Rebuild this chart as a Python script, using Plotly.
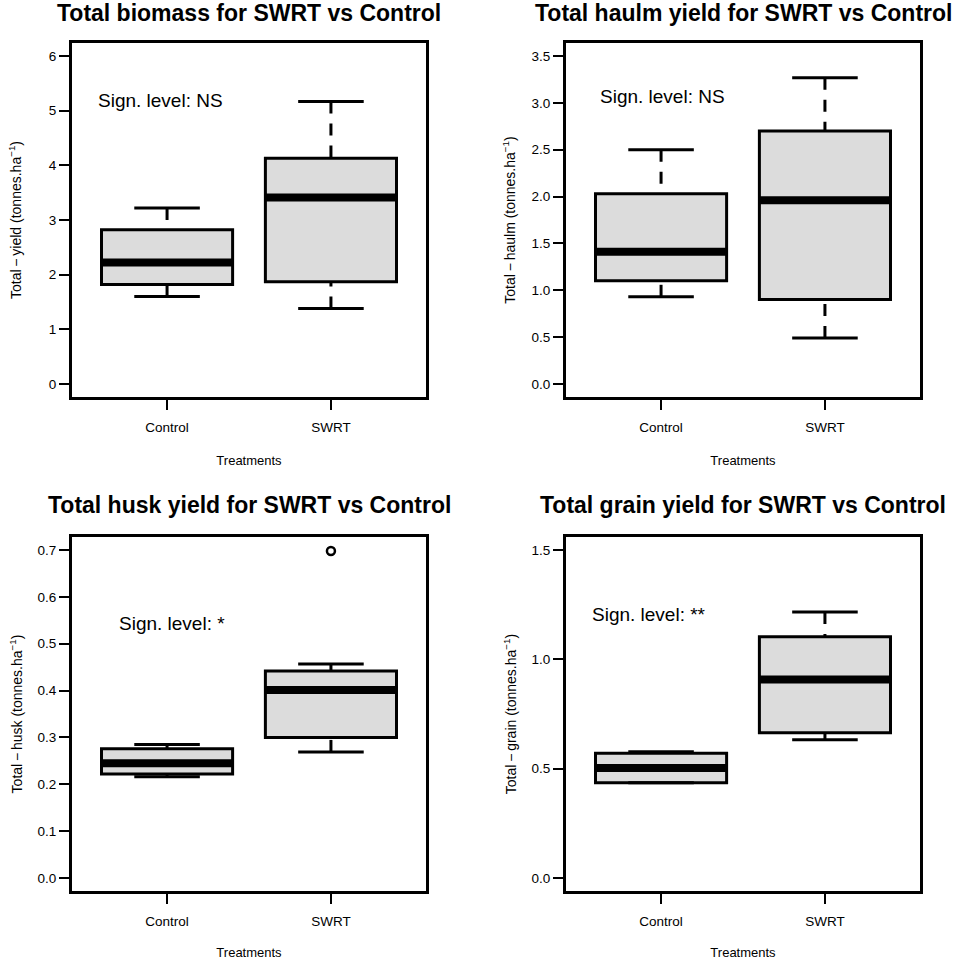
import plotly.graph_objects as go

# treatments and their x positions
groups = ['Control', 'SWRT']
positions = [1, 2]

# box statistics (lower whisker, Q1, median, Q3, upper whisker)
biomass_low = [1.60, 1.38]
biomass_q1 = [1.82, 1.87]
biomass_med = [2.22, 3.41]
biomass_q3 = [2.82, 4.13]
biomass_high = [3.22, 5.17]

haulm_low = [0.93, 0.49]
haulm_q1 = [1.10, 0.90]
haulm_med = [1.41, 1.96]
haulm_q3 = [2.03, 2.70]
haulm_high = [2.50, 3.27]

husk_low = [0.216, 0.269]
husk_q1 = [0.222, 0.300]
husk_med = [0.245, 0.401]
husk_q3 = [0.276, 0.442]
husk_high = [0.285, 0.457]
husk_outlier_pos = [2]
husk_outlier_val = [0.698]

grain_low = [0.435, 0.632]
grain_q1 = [0.435, 0.664]
grain_med = [0.503, 0.908]
grain_q3 = [0.570, 1.103]
grain_high = [0.577, 1.217]

titles = ['Total biomass for SWRT vs Control', 'Total haulm yield for SWRT vs Control',
          'Total husk yield for SWRT vs Control', 'Total grain yield for SWRT vs Control']
ytitles = ['Total\u2009\u2212\u2009yield (tonnes.ha<sup>\u22121</sup>)',
           'Total\u2009\u2212\u2009haulm (tonnes.ha<sup>\u22121</sup>)',
           'Total\u2009\u2212\u2009husk (tonnes.ha<sup>\u22121</sup>)',
           'Total\u2009\u2212\u2009grain (tonnes.ha<sup>\u22121</sup>)']
sign_labels = ['Sign. level: NS', 'Sign. level: NS', 'Sign. level: *', 'Sign. level: **']

FONT = 'Liberation Sans, Arial, sans-serif'
W, H = 957, 960
BOX_HALF = 0.4
CAP_HALF = 0.2

fig = go.Figure()

# panel frames in pixels: (left, right, top, bottom)
frames = [(72, 426, 43, 397), (566, 920, 43, 397),
          (72, 426, 537, 891), (566, 920, 537, 891)]
yranges = [[-0.24, 6.24], [-0.14, 3.64], [-0.028, 0.728], [-0.06, 1.56]]
yticks = [[0, 1, 2, 3, 4, 5, 6], [0, 0.5, 1, 1.5, 2, 2.5, 3, 3.5],
          [0, 0.1, 0.2, 0.3, 0.4, 0.5, 0.6, 0.7], [0, 0.5, 1, 1.5]]
yfmt = ['d', '.1f', '.1f', '.1f']
ystandoff = [24, 13, 12, 12]
sign_pos = [(0.565, 5.18), (0.615, 3.07), (0.695, 0.544), (0.565, 1.204)]
title_y = [13, 13, 505, 505]

panels = [
    (biomass_low, biomass_q1, biomass_med, biomass_q3, biomass_high),
    (haulm_low, haulm_q1, haulm_med, haulm_q3, haulm_high),
    (husk_low, husk_q1, husk_med, husk_q3, husk_high),
    (grain_low, grain_q1, grain_med, grain_q3, grain_high),
]

for i, (low, q1, med, q3, high) in enumerate(panels):
    n = '' if i == 0 else str(i + 1)
    xa, ya = 'x' + n, 'y' + n
    # box body
    fig.add_trace(go.Box(x=positions, q1=q1, median=med, q3=q3,
                         lowerfence=q1, upperfence=q3, width=2 * BOX_HALF,
                         whiskerwidth=0, fillcolor='#dcdcdc',
                         line=dict(color='black', width=3),
                         boxpoints=False, xaxis=xa, yaxis=ya))
    for p, lo, a, m, b, hi in zip(positions, low, q1, med, q3, high):
        # dashed whiskers from fence to box
        for fence, edge in ((hi, b), (lo, a)):
            fig.add_trace(go.Scatter(x=[p, p], y=[fence, edge], mode='lines',
                                     line=dict(color='black', width=3, dash='12px,10px'),
                                     xaxis=xa, yaxis=ya))
            fig.add_trace(go.Scatter(x=[p - CAP_HALF, p + CAP_HALF], y=[fence, fence],
                                     mode='lines', line=dict(color='black', width=3),
                                     xaxis=xa, yaxis=ya))
        # thick median
        fig.add_trace(go.Scatter(x=[p - BOX_HALF, p + BOX_HALF], y=[m, m], mode='lines',
                                 line=dict(color='black', width=8), xaxis=xa, yaxis=ya))
    if i == 2:
        fig.add_trace(go.Scatter(x=husk_outlier_pos, y=husk_outlier_val, mode='markers',
                                 marker=dict(symbol='circle-open', size=8, color='black',
                                             line=dict(width=2.5, color='black')),
                                 xaxis=xa, yaxis=ya))

    l, r, t, b = frames[i]
    axis_common = dict(showline=True, linecolor='black', linewidth=3, mirror=True,
                       ticks='outside', ticklen=10, tickwidth=2, tickcolor='black',
                       showgrid=False, zeroline=False,
                       tickfont=dict(family=FONT, size=13.5, color='black'))
    fig.layout['xaxis' + n] = dict(
        axis_common, domain=[l / W, r / W], anchor=ya, range=[0.42, 2.58],
        tickvals=positions, ticktext=groups, ticklabelstandoff=6,
        title=dict(text='Treatments', standoff=22, font=dict(family=FONT, size=13, color='black')))
    fig.layout['yaxis' + n] = dict(
        axis_common, domain=[1 - b / H, 1 - t / H], anchor=xa, range=yranges[i],
        tickvals=yticks[i], tickformat=yfmt[i],
        title=dict(text=ytitles[i], standoff=ystandoff[i],
                   font=dict(family=FONT, size=14, color='black')))

    fig.add_annotation(x=(l + r) / 2 / W, y=1 - title_y[i] / H, xref='paper', yref='paper',
                       text='<b>' + titles[i] + '</b>', showarrow=False,
                       xanchor='center', yanchor='middle',
                       font=dict(family=FONT, size=23, color='black'))
    fig.add_annotation(x=sign_pos[i][0], y=sign_pos[i][1], xref=xa, yref=ya,
                       text=sign_labels[i], showarrow=False, xanchor='left',
                       yanchor='middle', font=dict(family=FONT, size=19, color='black'))

fig.update_layout(width=W, height=H, margin=dict(l=0, r=0, t=0, b=0),
                  paper_bgcolor='white', plot_bgcolor='white', showlegend=False,
                  font=dict(family=FONT, color='black'))

fig.write_html('out.html', config={'displayModeBar': False},
               post_script="document.body.style.margin='0px';")
